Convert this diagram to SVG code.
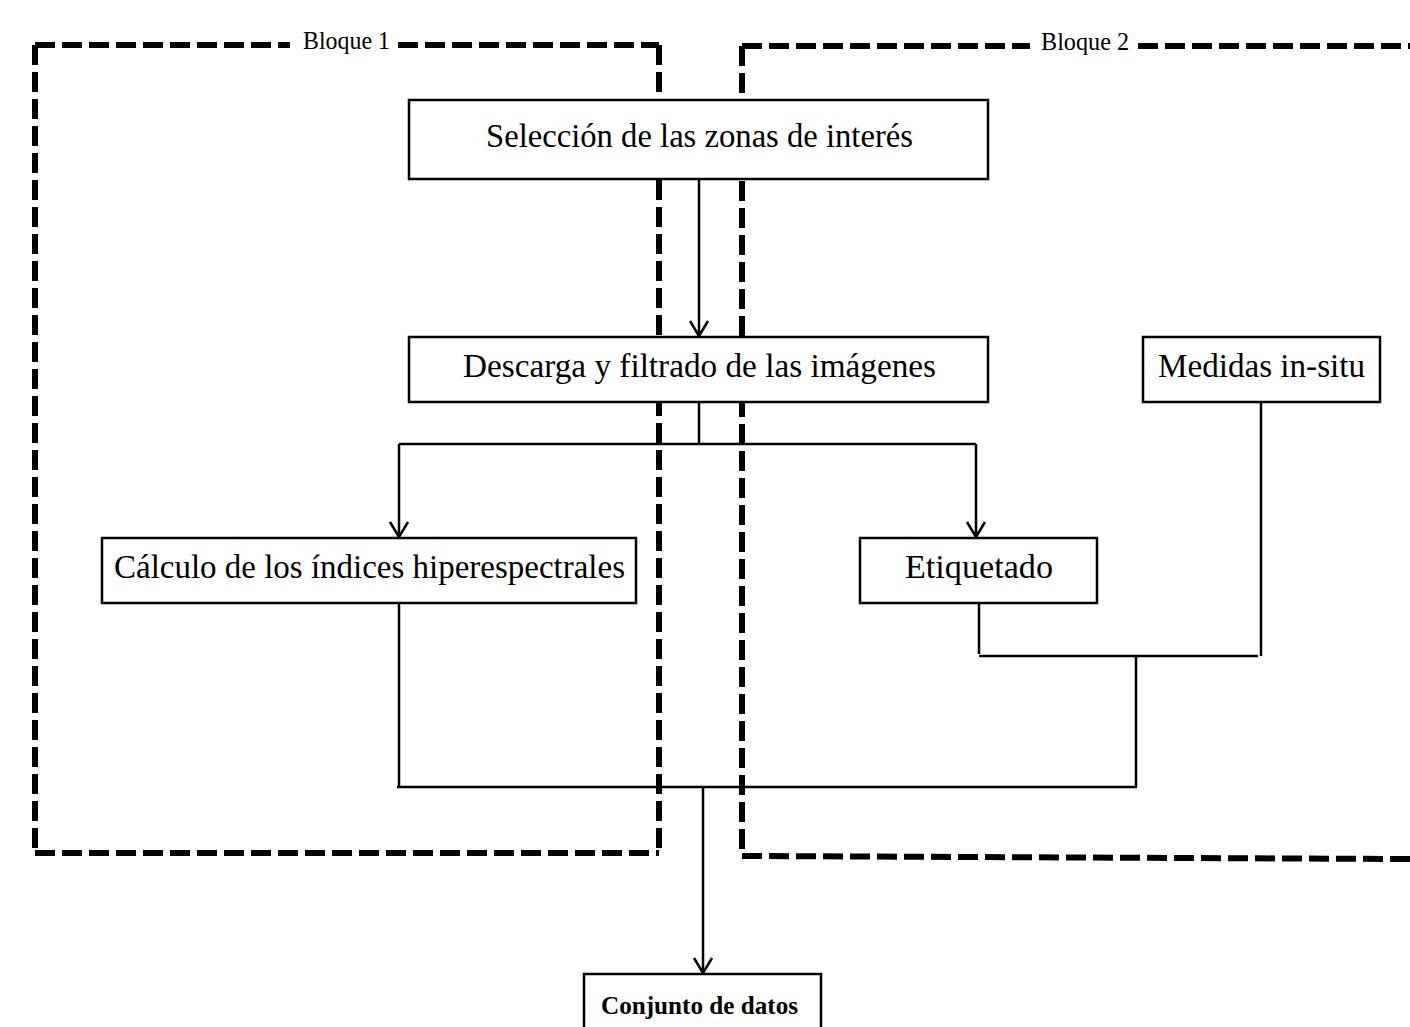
<svg xmlns="http://www.w3.org/2000/svg" width="1410" height="1027" viewBox="0 0 1410 1027">
<style>
.box{fill:#fff;stroke:#000;stroke-width:2.5}
.lbl{font-family:"Liberation Serif","Times New Roman",serif;font-size:33px;fill:#000}
.blk{font-family:"Liberation Serif","Times New Roman",serif;font-size:25px;fill:#000}
.dh{fill:none;stroke:#000;stroke-width:6;stroke-dasharray:20 7}
.ln{fill:none;stroke:#000;stroke-width:2.5}
.ar{fill:none;stroke:#000;stroke-width:2.5;marker-end:url(#arr)}
</style>
<defs>
<marker id="arr" viewBox="0 0 18 22" refX="16" refY="11" markerWidth="18" markerHeight="22" markerUnits="userSpaceOnUse" orient="auto">
<path d="M1,2 L16,11 L1,20" fill="none" stroke="#000" stroke-width="2.5"/>
</marker>
</defs>
<rect width="1410" height="1027" fill="#fff"/>
<g id="bloque1">
<path class="dh" d="M35,45 H290"/>
<path class="dh" d="M398,45 H659"/>
<path class="dh" d="M35,45 V853"/>
<path class="dh" d="M659,45 V853"/>
<path class="dh" d="M35,853 H659"/>
<text class="blk" x="303" y="49" textLength="87" lengthAdjust="spacingAndGlyphs">Bloque 1</text>
</g>
<g id="bloque2">
<path class="dh" d="M742,46 H1030"/>
<path class="dh" d="M1138,46 H1410"/>
<path class="dh" d="M742,46 V856"/>
<path class="dh" d="M742,856 L1410,859"/>
<text class="blk" x="1041" y="50" textLength="88" lengthAdjust="spacingAndGlyphs">Bloque 2</text>
</g>
<g id="connectors">
<path class="ar" d="M699,179 V336"/>
<path class="ln" d="M699,402 V444"/>
<path class="ln" d="M399,444 H976"/>
<path class="ar" d="M399,444 V537"/>
<path class="ar" d="M976,444 V537"/>
<path class="ln" d="M399,603 V787"/>
<path class="ln" d="M397,787 H1137"/>
<path class="ln" d="M979,603 V654"/>
<path class="ln" d="M979,656 H1258"/>
<path class="ln" d="M1261,402 V656"/>
<path class="ln" d="M1136,656 V787"/>
<path class="ar" d="M703,787 V973"/>
</g>
<g id="seleccion">
<rect class="box" x="409" y="100" width="579" height="79"/>
<text class="lbl" x="486" y="147" textLength="427" lengthAdjust="spacingAndGlyphs">Selección de las zonas de interés</text>
</g>
<g id="descarga">
<rect class="box" x="409" y="337" width="579" height="65"/>
<text class="lbl" x="463" y="377" textLength="473" lengthAdjust="spacingAndGlyphs">Descarga y filtrado de las imágenes</text>
</g>
<g id="medidas">
<rect class="box" x="1143" y="337" width="237" height="65"/>
<text class="lbl" x="1158" y="377" textLength="207" lengthAdjust="spacingAndGlyphs">Medidas in-situ</text>
</g>
<g id="calculo">
<rect class="box" x="102" y="538" width="534" height="65"/>
<text class="lbl" x="114" y="578" textLength="511" lengthAdjust="spacingAndGlyphs">Cálculo de los índices hiperespectrales</text>
</g>
<g id="etiquetado">
<rect class="box" x="860" y="538" width="237" height="65"/>
<text class="lbl" x="905" y="578" textLength="148" lengthAdjust="spacingAndGlyphs">Etiquetado</text>
</g>
<g id="conjunto">
<rect class="box" x="584" y="974" width="237" height="60"/>
<text x="601" y="1014" textLength="197" lengthAdjust="spacingAndGlyphs" style="font-family:'Liberation Serif','Times New Roman',serif;font-size:25px;font-weight:bold">Conjunto de datos</text>
</g>
</svg>
